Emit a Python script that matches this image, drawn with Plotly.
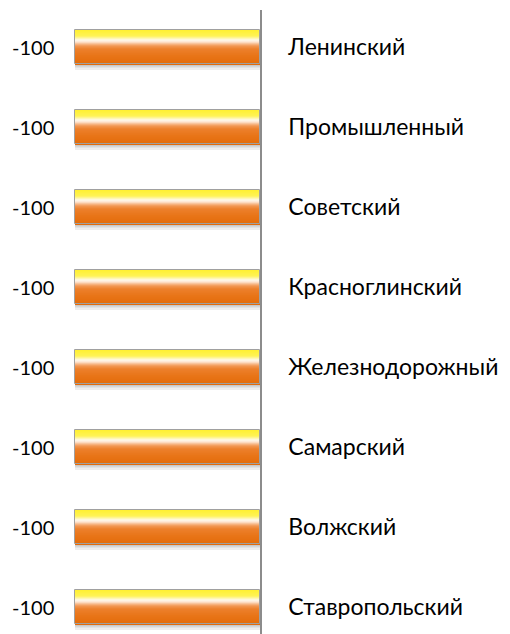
import plotly.graph_objects as go

categories = ["Ленинский", "Промышленный", "Советский", "Красноглинский",
              "Железнодорожный", "Самарский", "Волжский", "Ставропольский"]
values = [-100, -100, -100, -100, -100, -100, -100, -100]

FONT = "Lato, 'Open Sans', 'Noto Sans', sans-serif"
BAND_PX = 80.0
CENTER_PX = 47.0
BAR_TOP, BAR_BOT = 30, 64
PAGE_OFF = 8  # default body margin of the html page

# vertical gradient stops (px from bar top, colour)
stops = [
    (0, (0xFF, 0xF0, 0x30)),
    (6, (0xFF, 0xF3, 0x55)),
    (8, (0xFF, 0xF6, 0xA0)),
    (10, (0xFF, 0xF9, 0xEC)),
    (12, (0xFD, 0xE4, 0xD0)),
    (14, (0xF7, 0xBA, 0x8A)),
    (16, (0xF2, 0x97, 0x52)),
    (19, (0xEC, 0x80, 0x2C)),
    (26, (0xE8, 0x74, 0x17)),
    (34, (0xE3, 0x6C, 0x0A)),
]
shadow_stops = [
    (0, (0xB8, 0xB8, 0xB8)),
    (5, (0xF4, 0xF4, 0xF4)),
]


def interp(st, t):
    for (a, ca), (b, cb) in zip(st[:-1], st[1:]):
        if a <= t <= b:
            f = (t - a) / (b - a) if b > a else 0
            return "rgb(%d,%d,%d)" % tuple(round(x + (y - x) * f) for x, y in zip(ca, cb))
    return "rgb(%d,%d,%d)" % st[-1][1]


bands = []
for i in range(5):
    bands.append((BAR_BOT + i, BAR_BOT + i + 1.05, interp(shadow_stops, i + 0.5)))
for i in range(BAR_BOT - BAR_TOP):
    bands.append((BAR_TOP + i, BAR_TOP + i + 1.05, interp(stops, i + 0.5)))

fig = go.Figure()
for top, bot, col in bands:
    fig.add_trace(go.Bar(
        y=categories, x=values, orientation="h",
        width=(bot - top) / BAND_PX, offset=(top - CENTER_PX) / BAND_PX,
        marker=dict(color=col, line=dict(width=0)),
        hoverinfo="skip", showlegend=False,
    ))
# outline
fig.add_trace(go.Bar(
    y=categories, x=values, orientation="h",
    width=(BAR_BOT - BAR_TOP) / BAND_PX, offset=(BAR_TOP - CENTER_PX) / BAND_PX,
    marker=dict(color="rgba(0,0,0,0)", line=dict(width=1, color="#A0A0A0")),
    hoverinfo="skip", showlegend=False,
))

annotations = [
    dict(x=v, y=c, xref="x", yref="y", text=str(v), showarrow=False,
         xanchor="right", xshift=-19, font=dict(family=FONT, size=20, color="#000000"))
    for c, v in zip(categories, values)
]

top_px, bottom_px = 10, 634
plot_left, plot_right = 66, 260
W, H = 510 - PAGE_OFF, 634 - PAGE_OFF
fig.update_layout(
    width=W, height=H,
    margin=dict(l=plot_left - PAGE_OFF, r=W - (plot_right - PAGE_OFF),
                t=top_px - PAGE_OFF, b=0, autoexpand=False),
    paper_bgcolor="white", plot_bgcolor="white",
    barmode="overlay",
    bargap=0,
    annotations=annotations,
    xaxis=dict(range=[-100 - 9 / 1.85, 0], showgrid=False, zeroline=False,
               showticklabels=False, showline=False, ticks=""),
    yaxis=dict(
        type="category",
        range=[(bottom_px - CENTER_PX) / BAND_PX, (top_px - CENTER_PX) / BAND_PX],
        side="right", showgrid=False, zeroline=False,
        showline=True, linecolor="#8C8C8C", linewidth=1.5,
        ticks="", ticklabelstandoff=22,
        tickfont=dict(family=FONT, size=23, color="#000000"),
    ),
)

fig.write_html("out.html")
